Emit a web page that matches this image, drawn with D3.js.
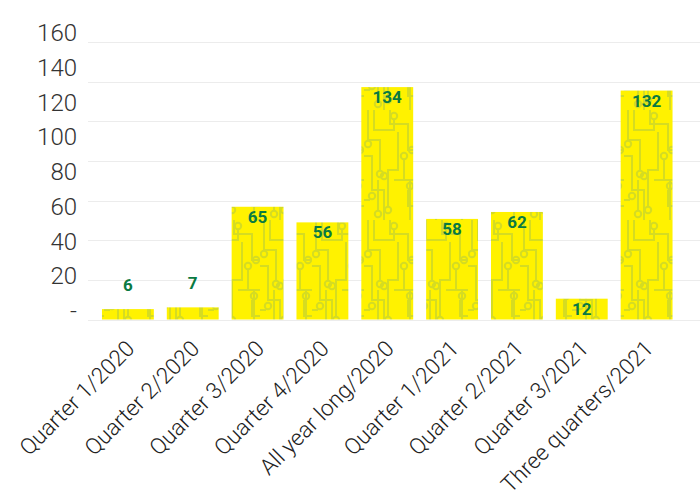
<!DOCTYPE html>
<html><head><meta charset="utf-8">
<script src="https://cdn.jsdelivr.net/npm/d3@7"></script>
<style>body{margin:0;background:#fff}svg{display:block}</style>
</head><body>
<svg id="c" width="700" height="503"></svg>
<script>
const categories = ["Quarter 1/2020","Quarter 2/2020","Quarter 3/2020","Quarter 4/2020","All year long/2020","Quarter 1/2021","Quarter 2/2021","Quarter 3/2021","Three quarters/2021"];
const values = [6,7,65,56,134,58,62,12,132];
const yTicks = [0,20,40,60,80,100,120,140,160];
const yTickLabels = ["-","20","40","60","80","100","120","140","160"];
const gridCount = 7;

const svg = d3.select("#c");
const x = d3.scaleBand().domain(categories).range([89,685.5]).paddingInner(0.2).paddingOuter(0.2);
const y = d3.scaleLinear().domain([0,160]).range([319.5,42]);

// pattern
const defs = svg.append("defs");
const pat = defs.append("pattern").attr("id","circ").attr("patternUnits","userSpaceOnUse")
  .attr("width",52).attr("height",110).attr("x",0).attr("y",0);
pat.append("rect").attr("width",52).attr("height",110).attr("fill","#fff200");
const pg = pat.append("g").attr("fill","none").attr("stroke","#d5dc22").attr("stroke-width",2);
const paths = [
 "M4,0 V30 H16 V60","M10,0 V20 H30 V10","M26,0 V14 H44 V40 H52","M0,46 H8 V80 H20 V110",
 "M34,22 V60 H24 V96","M40,50 V70 H52","M14,70 V100","M30,70 H46 V110","M0,90 H6","M44,80 V96 H52"
];
paths.forEach(p=>pg.append("path").attr("d",p));
[[16,64],[30,6],[48,40],[24,100],[40,46],[14,104],[8,86],[4,34],[46,76],[20,66]].forEach(c=>
  pg.append("circle").attr("cx",c[0]).attr("cy",c[1]).attr("r",3.2));

// gridlines
const gridVals = d3.range(gridCount+1).map(i=>160*i/gridCount);
svg.append("g").selectAll("line").data(gridVals).join("line")
  .attr("x1",88).attr("x2",700).attr("y1",d=>Math.round(y(d))+0.5).attr("y2",d=>Math.round(y(d))+0.5)
  .attr("stroke","#ececec").attr("stroke-width",1);

// y labels
svg.append("g").selectAll("text").data(yTicks).join("text")
  .attr("x",77).attr("y",d=>y(d)-9).attr("dy","0.35em").attr("text-anchor","end")
  .attr("font-family","Roboto").attr("font-weight",300).attr("font-size",24).attr("fill","#333")
  .text((d,i)=>yTickLabels[i]);

// bars
svg.append("g").selectAll("rect").data(values).join("rect")
  .attr("x",(d,i)=>x(categories[i])).attr("width",x.bandwidth())
  .attr("y",d=>y(d)).attr("height",d=>y(0)-y(d)).attr("fill","url(#circ)");

// value labels
svg.append("g").selectAll("text").data(values).join("text")
  .attr("x",(d,i)=>x(categories[i])+x.bandwidth()/2)
  .attr("y",d=> (y(0)-y(d) < 20) ? y(d)-24 : y(d)+10)
  .attr("dy","0.35em").attr("text-anchor","middle")
  .attr("font-family","Roboto").attr("font-weight",700).attr("font-size",17).attr("fill","#0a7a42")
  .text(d=>d);

// x labels
svg.append("g").selectAll("text").data(categories).join("text")
  .attr("transform",d=>`translate(${x(d)+x.bandwidth()/2+8},${350}) rotate(-45)`)
  .attr("text-anchor","end")
  .attr("font-family","Roboto").attr("font-weight",300).attr("font-size",22.5).attr("fill","#222")
  .text(d=>d);
</script>
</body></html>
